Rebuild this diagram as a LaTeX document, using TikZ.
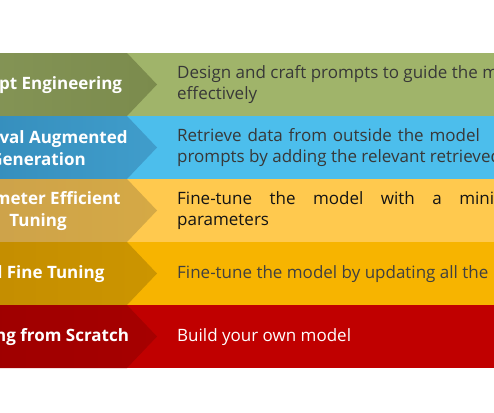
\documentclass[tikz,border=0pt]{standalone}
\usepackage{fontspec}
\setmainfont{Open Sans}
\definecolor{peLight}{HTML}{A0B46A}
\definecolor{peLeft}{HTML}{8A9A5B}
\definecolor{peRight}{HTML}{7B8B4D}
\definecolor{ragLight}{HTML}{4CBEEC}
\definecolor{ragLeft}{HTML}{2E84B3}
\definecolor{ragRight}{HTML}{409DCB}
\definecolor{peftLight}{HTML}{FFC94E}
\definecolor{peftLeft}{HTML}{C89E4E}
\definecolor{peftRight}{HTML}{D5A945}
\definecolor{fftLight}{HTML}{F7B400}
\definecolor{fftLeft}{HTML}{BF8800}
\definecolor{fftRight}{HTML}{CC9500}
\definecolor{tfsLight}{HTML}{C00000}
\definecolor{tfsLeft}{HTML}{9A0000}
\definecolor{tfsRight}{HTML}{A60000}
\begin{document}
\begin{tikzpicture}[x=1pt,y=-1pt,
  label/.style={text=white,inner sep=0pt,align=center,font=\bfseries\fontsize{17}{22}\selectfont},
  desc/.style={anchor=west,inner sep=0pt,align=left,font=\fontsize{17}{21}\selectfont}]
\useasboundingbox (0,0) rectangle (494,412);
\clip (0,0) rectangle (494,412);

% prompt engineering
\fill[peLight] (127,53) rectangle (520,116);
\shade[left color=peLeft, right color=peRight] (-130,53) -- (127,53) -- (157,84.5) -- (127,116) -- (-130,116) -- cycle;
\node[label] (pe) at (38,85) {Prompt Engineering};
\node[desc,text=black!78] (peText) at (177,85) {Design and craft prompts to guide the model\\effectively};

% retrieval augmented generation
\fill[ragLight] (127,116) rectangle (520,179);
\shade[left color=ragLeft, right color=ragRight] (-130,116) -- (127,116) -- (157,147.5) -- (127,179) -- (-130,179) -- cycle;
\node[label] (rag) at (38,148) {Retrieval Augmented\\Generation};
\node[desc,text=black!78] (ragText) at (177,148) {{\spaceskip=5.8pt Retrieve data from outside the model}\\prompts by adding the relevant retrieved};

% parameter efficient tuning
\fill[peftLight] (127,179) rectangle (520,242);
\shade[left color=peftLeft, right color=peftRight] (-130,179) -- (127,179) -- (157,210.5) -- (127,242) -- (-130,242) -- cycle;
\node[label] (peft) at (38,211) {Parameter Efficient\\Tuning};
\node[desc,text=black!92] (peftText) at (177,211) {{\spaceskip=17.5pt Fine-tune the model with a minimal}\\parameters};

% full fine tuning
\fill[fftLight] (127,242) rectangle (520,305);
\shade[left color=fftLeft, right color=fftRight] (-130,242) -- (127,242) -- (157,273.5) -- (127,305) -- (-130,305) -- cycle;
\node[label] (fft) at (38,274) {Full Fine Tuning};
\node[desc,text=black!75] (fftText) at (177,274) {Fine-tune the model by updating all the};

% training from scratch
\fill[tfsLight] (127,305) rectangle (520,368);
\shade[left color=tfsLeft, right color=tfsRight] (-130,305) -- (127,305) -- (157,336.5) -- (127,368) -- (-130,368) -- cycle;
\node[label] (tfs) at (38,337) {Training from Scratch};
\node[desc,text=white] (tfsText) at (177,337) {Build your own model};
\end{tikzpicture}
\end{document}
